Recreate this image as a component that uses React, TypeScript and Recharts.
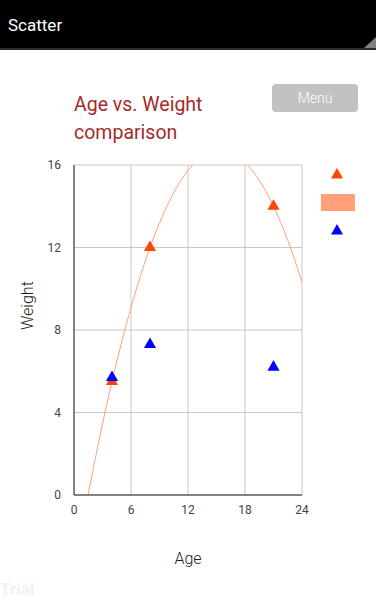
import {
  ComposedChart,
  Scatter,
  Line,
  XAxis,
  YAxis,
  CartesianGrid,
  Legend,
} from 'recharts';

const ages = [4, 8, 21];
const weightsA = [5.5, 12, 14];
const weightsB = [5.7, 7.3, 6.2];
const ageTicks = [0, 6, 12, 18, 24];
const weightTicks = [0, 4, 8, 12, 16];

const ORANGE = '#ff4500';
const BLUE = '#0000ff';
const TREND = '#ffa07a';
const FONT = 'Roboto, "Noto Sans", sans-serif';

const seriesA = ages.map((x, i) => ({ x, y: weightsA[i] }));
const seriesB = ages.map((x, i) => ({ x, y: weightsB[i] }));

// quadratic least-squares trendline of series A (solved with normal equations)
function quadFit(xs: number[], ys: number[]) {
  const s = (f: (x: number, y: number) => number) =>
    xs.reduce((acc, x, i) => acc + f(x, ys[i]), 0);
  const m = [
    [s((x) => x ** 4), s((x) => x ** 3), s((x) => x ** 2), s((x, y) => x * x * y)],
    [s((x) => x ** 3), s((x) => x ** 2), s((x) => x), s((x, y) => x * y)],
    [s((x) => x ** 2), s((x) => x), xs.length, s((_, y) => y)],
  ];
  for (let c = 0; c < 3; c++) {
    for (let r = c + 1; r < 3; r++) {
      const k = m[r][c] / m[c][c];
      for (let j = c; j < 4; j++) m[r][j] -= k * m[c][j];
    }
  }
  const out = [0, 0, 0];
  for (let r = 2; r >= 0; r--) {
    let v = m[r][3];
    for (let j = r + 1; j < 3; j++) v -= m[r][j] * out[j];
    out[r] = v / m[r][r];
  }
  return out;
}

const [qa, qb, qc] = quadFit(ages, weightsA);
const trend = Array.from({ length: 97 }, (_, i) => {
  const x = i * 0.25;
  return { x, y: qa * x * x + qb * x + qc };
});

function tri(cx: number, cy: number, color: string) {
  return <path d={`M${cx},${cy - 7} L${cx + 6},${cy + 3.5} L${cx - 6},${cy + 3.5} Z`} fill={color} />;
}

function LegendBox() {
  return (
    <svg width={40} height={70}>
      {tri(17, 9, ORANGE)}
      <rect x={1} y={28} width={34} height={17} fill={TREND} />
      {tri(17, 65, BLUE)}
    </svg>
  );
}

export default function App() {
  return (
    <div
      style={{
        position: 'fixed',
        left: 0,
        top: 0,
        width: 376,
        height: 601,
        background: '#fff',
        overflow: 'hidden',
        fontFamily: FONT,
      }}
    >
      <div style={{ position: 'absolute', left: 0, top: 0, width: 376, height: 48, background: '#000' }} />
      <div style={{ position: 'absolute', left: 0, top: 48, width: 376, height: 2, background: '#2a2a2a' }} />
      <svg style={{ position: 'absolute', left: 364, top: 37 }} width={12} height={11}>
        <path d="M12,0 L12,11 L0,11 Z" fill="#808080" />
      </svg>
      <div style={{ position: 'absolute', left: 8, top: 15, color: '#fff', fontSize: 17 }}>Scatter</div>

      <div
        style={{
          position: 'absolute',
          left: 272,
          top: 84,
          width: 86,
          height: 28,
          background: '#c2c2c2',
          borderRadius: 4,
          color: '#fff',
          fontSize: 14,
          fontWeight: 300,
          lineHeight: '28px',
          textAlign: 'center',
        }}
      >
        Menu
      </div>

      <div
        style={{
          position: 'absolute',
          left: 74,
          top: 91,
          color: '#a52a2a',
          fontSize: 19.5,
          lineHeight: '28px',
        }}
      >
        Age vs. Weight
        <br />
        comparison
      </div>

      <div
        style={{
          position: 'absolute',
          left: 0,
          top: 579,
          color: '#f2f2f2',
          fontSize: 17,
          fontWeight: 'bold',
        }}
      >
        Trial
      </div>

      <div style={{ position: 'absolute', left: 0, top: 0 }}>
        <ComposedChart
          width={376}
          height={601}
          margin={{ top: 165, right: 34, bottom: 76, left: 14 }}
        >
          <CartesianGrid stroke="#c8c8c8" />
          <XAxis
            type="number"
            dataKey="x"
            domain={[0, 24]}
            ticks={ageTicks}
            allowDataOverflow
            height={30}
            tickSize={0}
            tickMargin={10}
            stroke="#222"
            tick={{ fill: '#444', fontSize: 12, fontFamily: FONT }}
            label={{ value: 'Age', position: 'bottom', offset: 28, fill: '#222', fontSize: 16, fontWeight: 300, fontFamily: FONT }}
          />
          <YAxis
            type="number"
            dataKey="y"
            domain={[0, 16]}
            ticks={weightTicks}
            allowDataOverflow
            width={60}
            tickSize={0}
            tickMargin={13}
            stroke="#222"
            tick={{ fill: '#444', fontSize: 12, fontFamily: FONT }}
            label={{ value: 'Weight', angle: -90, position: 'insideLeft', offset: 13, fill: '#222', fontSize: 16, fontWeight: 300, fontFamily: FONT }}
          />
          <Legend
            layout="vertical"
            align="right"
            verticalAlign="top"
            content={() => <LegendBox />}
            wrapperStyle={{ top: 166, left: 320, right: 'auto', width: 40 }}
          />
          <Line
            data={trend}
            dataKey="y"
            stroke={TREND}
            strokeWidth={1}
            dot={false}
            type="linear"
            isAnimationActive={false}
          />
          <Scatter data={seriesA} dataKey="y" fill={ORANGE} shape="triangle" isAnimationActive={false} />
          <Scatter data={seriesB} dataKey="y" fill={BLUE} shape="triangle" isAnimationActive={false} />
        </ComposedChart>
      </div>
    </div>
  );
}
